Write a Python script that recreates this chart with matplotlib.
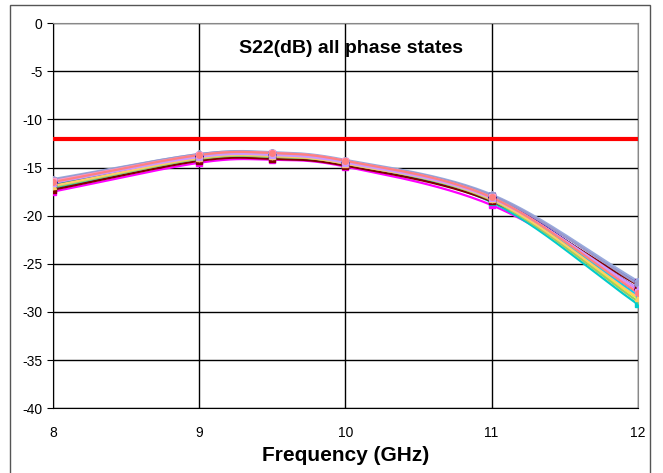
import numpy as np
import matplotlib.pyplot as plt
import matplotlib.patches as patches

plt.rcParams['font.family'] = ['Liberation Sans', 'DejaVu Sans']
plt.rcParams['axes.unicode_minus'] = False

# measured frequencies (GHz)
freq = [8, 9, 9.5, 10, 11, 12]

# S22 (dB) for each phase state
s01 = [-16.5, -13.8, -13.6, -14.4, -18.1, -27.6]
s02 = [-17.5, -14.5, -14.2, -14.9, -18.9, -27.6]
s03 = [-16.9, -14.0, -13.8, -14.6, -18.4, -28.6]
s04 = [-17.1, -14.2, -13.9, -14.7, -18.6, -29.2]
s05 = [-16.6, -13.8, -13.6, -14.4, -18.0, -26.9]
s06 = [-17.3, -14.3, -14.1, -14.8, -18.5, -27.2]
s07 = [-16.8, -14.0, -13.8, -14.5, -18.3, -28.0]
s08 = [-16.3, -13.7, -13.5, -14.3, -17.9, -27.0]
s09 = [-16.5, -13.8, -13.6, -14.4, -18.1, -28.3]
s10 = [-16.2, -13.6, -13.4, -14.2, -17.8, -26.8]
s11 = [-17.0, -14.1, -13.9, -14.6, -18.4, -28.9]
s12 = [-16.9, -14.0, -13.8, -14.6, -18.3, -28.5]
s13 = [-16.3, -13.6, -13.5, -14.3, -17.9, -27.1]
s14 = [-16.4, -13.7, -13.5, -14.3, -18.1, -27.9]
s15 = [-16.6, -13.9, -13.7, -14.5, -18.2, -27.6]
s16 = [-16.5, -13.7, -13.5, -14.3, -18.1, -28.0]
states = [s01, s02, s03, s04, s05, s06, s07, s08,
          s09, s10, s11, s12, s13, s14, s15, s16]

colors = ['#000080', '#FF00FF', '#FFFF00', '#00CCCC', '#800080', '#800000',
          '#008080', '#6666CC', '#00CCFF', '#99AADD', '#99CC66', '#FFCC66',
          '#9999CC', '#FF99CC', '#CC99FF', '#FF8080']
markers = ['D', 's', '^', 's', 's', 's', 'o', 'x', '*', 'o', '+', '^',
           'D', 's', '^', 'o']

spec = -12


def smooth(x, y, n=30):
    # Catmull-Rom style curve through the points, like an Excel smoothed line
    x = np.asarray(x, float)
    y = np.asarray(y, float)
    px = np.concatenate([[2 * x[0] - x[1]], x, [2 * x[-1] - x[-2]]])
    py = np.concatenate([[2 * y[0] - y[1]], y, [2 * y[-1] - y[-2]]])
    xs, ys = [], []
    t = np.linspace(0, 1, n)
    for i in range(1, len(px) - 2):
        for p, out in ((px, xs), (py, ys)):
            p0, p1, p2, p3 = p[i - 1], p[i], p[i + 1], p[i + 2]
            out.extend(0.5 * (2 * p1 + (-p0 + p2) * t
                              + (2 * p0 - 5 * p1 + 4 * p2 - p3) * t ** 2
                              + (-p0 + 3 * p1 - 3 * p2 + p3) * t ** 3))
    return np.array(xs), np.array(ys)


fig = plt.figure(figsize=(6.63, 4.73), dpi=100)
ax = fig.add_axes([0.080, 0.137, 0.882, 0.814])

for vals, c, m in zip(states, colors, markers):
    xs, ys = smooth(freq, vals)
    ax.plot(xs, ys, color=c, lw=1.6, zorder=3)
    ax.plot(freq, vals, ls='none', marker=m, color=c, ms=4, zorder=4)

ax.axhline(spec, color='#FF0000', lw=3, zorder=5)

ax.set_xlim(8, 12)
ax.set_ylim(-40, 0)
ax.set_xticks([8, 9, 10, 11, 12])
ax.set_yticks(range(-40, 1, 5))
ax.grid(True, color='black', lw=1)
ax.set_axisbelow(True)
ax.tick_params(axis='both', labelsize=10, length=4, direction='out')
ax.tick_params(axis='x', length=0, pad=13)
for s in ['top', 'right']:
    ax.spines[s].set_color('#888888')

ax.set_xlabel('Frequency (GHz)', fontsize=15, fontweight='bold', labelpad=4)
ax.text(10.04, -2.6, 'S22(dB) all phase states', fontsize=14,
        fontweight='bold', ha='center', va='center')

fig.patches.append(patches.Rectangle((10 / 663, -0.05), 640 / 663, 1.04,
                                     transform=fig.transFigure, fill=False,
                                     edgecolor='#555555', lw=1))

fig.savefig('out.png', dpi=100)
